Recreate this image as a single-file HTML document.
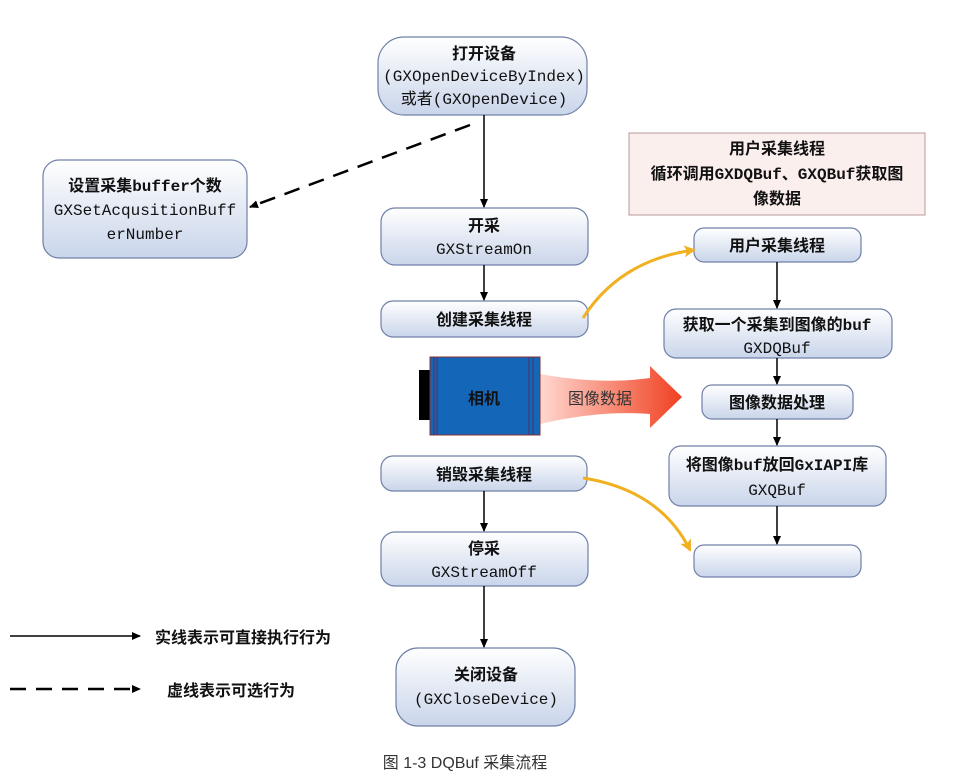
<!DOCTYPE html>
<html><head><meta charset="utf-8"><style>
body{margin:0;background:#fff}
text{font-family:"Liberation Mono","Noto Sans CJK SC",monospace;font-size:16px;fill:#111;text-anchor:middle}
.c{font-family:"Liberation Sans","Noto Sans CJK SC",sans-serif}
</style></head><body>
<svg width="955" height="778" viewBox="0 0 955 778" xmlns="http://www.w3.org/2000/svg">
<defs>
<linearGradient id="g" x1="0" y1="0" x2="0" y2="1"><stop offset="0" stop-color="#ffffff"/><stop offset="1" stop-color="#c9d5ea"/></linearGradient>
<linearGradient id="r" x1="0" y1="0" x2="1" y2="0"><stop offset="0" stop-color="#ffd8d0"/><stop offset="1" stop-color="#f04020"/></linearGradient>
<marker id="a" markerWidth="10" markerHeight="10" refX="8" refY="5" orient="auto" markerUnits="userSpaceOnUse"><path d="M0,1 L9,5 L0,9 z" fill="#000"/></marker>
<marker id="o" markerWidth="14" markerHeight="14" refX="10" refY="7" orient="auto" markerUnits="userSpaceOnUse"><path d="M0,1 L12,7 L0,13 L3,7 z" fill="#f0b020"/></marker>
</defs>
<g stroke="#7080a8" stroke-width="1.2" fill="url(#g)">
<rect x="378" y="37" width="209" height="78" rx="26"/>
<rect x="43" y="160" width="204" height="98" rx="16"/>
<rect x="381" y="208" width="207" height="57" rx="14"/>
<rect x="381" y="301" width="207" height="36" rx="12"/>
<rect x="381" y="456" width="206" height="35" rx="12"/>
<rect x="381" y="532" width="207" height="54" rx="14"/>
<rect x="396" y="648" width="179" height="78" rx="22"/>
<rect x="694" y="228" width="167" height="34" rx="10"/>
<rect x="664" y="309" width="228" height="49" rx="12"/>
<rect x="702" y="385" width="151" height="34" rx="10"/>
<rect x="669" y="446" width="217" height="60" rx="12"/>
<rect x="694" y="545" width="167" height="32" rx="10"/>
</g>
<rect x="629" y="133" width="296" height="82" fill="#fbefee" stroke="#b89898"/>
<g stroke="#000" stroke-width="1.5" marker-end="url(#a)">
<line x1="484" y1="115" x2="484" y2="207"/>
<line x1="484" y1="265" x2="484" y2="300"/>
<line x1="484" y1="491" x2="484" y2="531"/>
<line x1="484" y1="586" x2="484" y2="647"/>
<line x1="777" y1="262" x2="777" y2="308"/>
<line x1="777" y1="358" x2="777" y2="384"/>
<line x1="777" y1="419" x2="777" y2="445"/>
<line x1="777" y1="506" x2="777" y2="544"/>
<line x1="470" y1="125" x2="250" y2="207" stroke-width="2.5" stroke-dasharray="16,10"/>
<line x1="10" y1="636" x2="140" y2="636"/>
<line x1="10" y1="689" x2="140" y2="689" stroke-width="2.5" stroke-dasharray="16,10"/>
</g>
<g stroke="#f0b020" stroke-width="3" fill="none" marker-end="url(#o)">
<path d="M583,318 Q620,260 694,250"/>
<path d="M583,478 Q660,490 690,550"/>
</g>
<path d="M540,374 Q600,385 650,378 L650,366 L682,397 L650,428 L650,414 Q600,410 540,424 z" fill="url(#r)"/>
<rect x="419" y="370" width="13" height="50" fill="#000"/>
<rect x="430" y="357" width="110" height="78" fill="#1366b8" stroke="#8a3030"/>
<g stroke="#503060" stroke-width="1"><line x1="434" y1="357" x2="434" y2="435"/><line x1="437" y1="357" x2="437" y2="435"/><line x1="529" y1="357" x2="529" y2="435"/><line x1="533" y1="357" x2="533" y2="435"/></g>
<text x="484" y="404" font-weight="bold" font-size="18">相机</text>
<text x="600" y="404" style="fill:#333">图像数据</text>
<text x="484" y="59" font-weight="bold">打开设备</text>
<text x="484" y="81">(GXOpenDeviceByIndex)</text>
<text x="484" y="104">或者(GXOpenDevice)</text>
<text x="145" y="191" font-weight="bold">设置采集buffer个数</text>
<text x="145" y="215">GXSetAcqusitionBuff</text>
<text x="145" y="239">erNumber</text>
<text x="484" y="231" font-weight="bold">开采</text>
<text x="484" y="254">GXStreamOn</text>
<text x="484" y="325" font-weight="bold">创建采集线程</text>
<text x="484" y="480" font-weight="bold">销毁采集线程</text>
<text x="484" y="554" font-weight="bold">停采</text>
<text x="484" y="577">GXStreamOff</text>
<text x="486" y="680" font-weight="bold">关闭设备</text>
<text x="486" y="704">(GXCloseDevice)</text>
<text x="777" y="154" font-weight="bold">用户采集线程</text>
<text x="777" y="179" font-weight="bold">循环调用GXDQBuf、GXQBuf获取图</text>
<text x="777" y="204" font-weight="bold">像数据</text>
<text x="777" y="251" font-weight="bold">用户采集线程</text>
<text x="777" y="330" font-weight="bold">获取一个采集到图像的buf</text>
<text x="777" y="353">GXDQBuf</text>
<text x="777" y="408" font-weight="bold">图像数据处理</text>
<text x="777" y="470" font-weight="bold">将图像buf放回GxIAPI库</text>
<text x="777" y="495">GXQBuf</text>
<text class="c" x="155" y="643" font-weight="bold" font-size="17" style="text-anchor:start">实线表示可直接执行行为</text>
<text class="c" x="167" y="696" font-weight="bold" font-size="17" style="text-anchor:start">虚线表示可选行为</text>
<text class="c" x="465" y="768" font-size="15" style="fill:#333">图  1-3 DQBuf 采集流程</text>
</svg>
</body></html>
